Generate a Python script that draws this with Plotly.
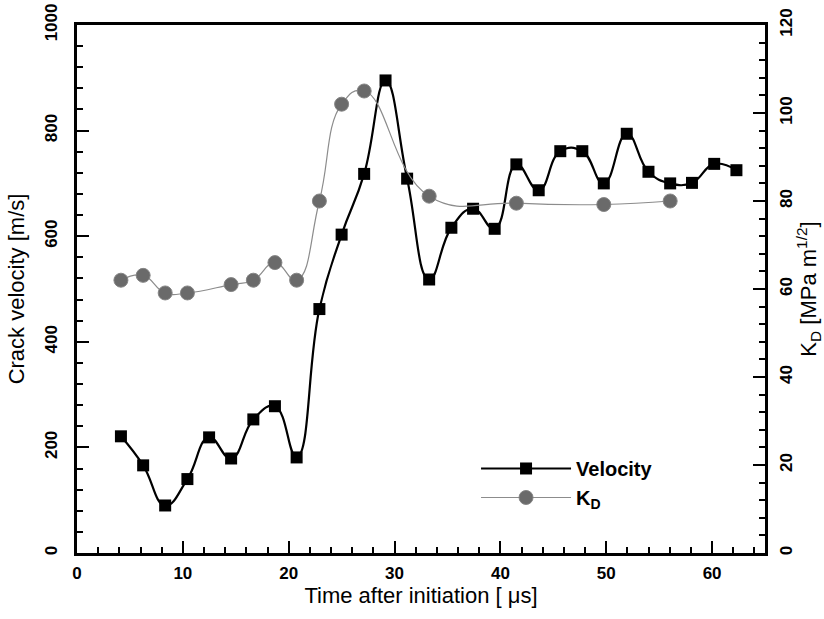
import plotly.graph_objects as go

# Data
time_v = [4.15, 6.25, 8.33, 10.43, 12.48, 14.56, 16.66, 18.70, 20.75, 22.90,
          25.00, 27.13, 29.15, 31.19, 33.27, 35.37, 37.42, 39.46, 41.51, 43.62,
          45.66, 47.74, 49.77, 51.94, 53.99, 56.04, 58.10, 60.20, 62.30]
velocity = [221, 166, 90, 140, 219, 179, 253, 278, 181, 462,
            603, 718, 895, 709, 518, 616, 652, 614, 736, 687,
            761, 761, 700, 794, 722, 700, 701, 737, 725]

time_k = [4.15, 6.25, 8.33, 10.43, 14.56, 16.66, 18.70, 20.75, 22.90, 25.00,
          27.13, 33.27, 41.51, 49.77, 56.04]
kd = [62.0, 63.1, 59.1, 59.1, 61.0, 62.0, 66.0, 62.0, 80.0, 102.0,
      105.0, 81.1, 79.5, 79.2, 80.0]

FONT = "Liberation Sans, Arial, Helvetica, sans-serif"

fig = go.Figure()
fig.add_trace(go.Scatter(
    x=time_v, y=velocity, name="Velocity", mode="lines+markers",
    line=dict(color="black", width=2.2, shape="spline", smoothing=1.3),
    marker=dict(symbol="square", size=12, color="black"),
    legendgroup="a", yaxis="y"))
fig.add_trace(go.Scatter(
    x=time_k, y=kd, name="K<sub>D</sub>", mode="lines+markers",
    line=dict(color="#8c8c8c", width=1.2, shape="spline", smoothing=1.3),
    marker=dict(symbol="circle", size=14, color="#6a6a6a",
                line=dict(color="#858585", width=1)),
    legendgroup="b", yaxis="y2"))

tickfont = dict(family=FONT, size=17, color="black", weight="bold")
titlefont = dict(family=FONT, size=22, color="black")
fig.update_layout(
    width=824, height=619,
    margin=dict(l=77, r=59, t=25, b=66, autoexpand=False),
    paper_bgcolor="white", plot_bgcolor="white",
    font=dict(family=FONT, color="black"),
    xaxis=dict(range=[0, 65], dtick=10, tick0=0, ticks="inside", ticklen=12,
               tickwidth=2, tickcolor="black", showgrid=False, zeroline=False,
               showline=True, linecolor="black", linewidth=3, mirror=True,
               tickfont=tickfont, ticklabelstandoff=3, automargin=False,
               minor=dict(ticks="inside", dtick=2, ticklen=6, tickwidth=1.5,
                          tickcolor="black", showgrid=False),
               title=dict(text="Time after initiation [ μs]",
                          font=titlefont, standoff=2)),
    yaxis=dict(range=[0, 1000], dtick=200, tick0=0, ticks="inside", ticklen=12,
               tickwidth=2, tickcolor="black", showgrid=False, zeroline=False,
               showline=True, linecolor="black", linewidth=3,
               tickangle=-90, tickfont=tickfont, ticklabelstandoff=10,
               ticklabeloverflow="allow", automargin=False,
               minor=dict(ticks="inside", dtick=40, ticklen=6, tickwidth=1.5,
                          tickcolor="black", showgrid=False),
               title=dict(text="Crack velocity [m/s]",
                          font=titlefont, standoff=12)),
    yaxis2=dict(range=[0, 120], dtick=20, tick0=0, ticks="inside", ticklen=12,
                tickwidth=2, tickcolor="black", showgrid=False, zeroline=False,
                showline=True, linecolor="black", linewidth=3,
                overlaying="y", side="right", anchor="x",
                tickangle=-90, tickfont=tickfont, ticklabelstandoff=4,
                ticklabeloverflow="allow", automargin=False,
                minor=dict(ticks="inside", dtick=4, ticklen=6, tickwidth=1.5,
                           tickcolor="black", showgrid=False),
                title=dict(text="K<sub>D</sub> [MPa m<sup>1/2</sup>]",
                           font=titlefont, standoff=2)),
    legend=dict(x=0.58, y=0.197, xanchor="left", yanchor="top",
                bgcolor="rgba(0,0,0,0)", itemwidth=90,
                traceorder="grouped", tracegroupgap=0,
                font=dict(family=FONT, size=20, color="black", weight="bold")),
    showlegend=True,
)

fig.write_html("out.html",
               config={"displayModeBar": False},
               post_script="document.body.style.margin='0';")
